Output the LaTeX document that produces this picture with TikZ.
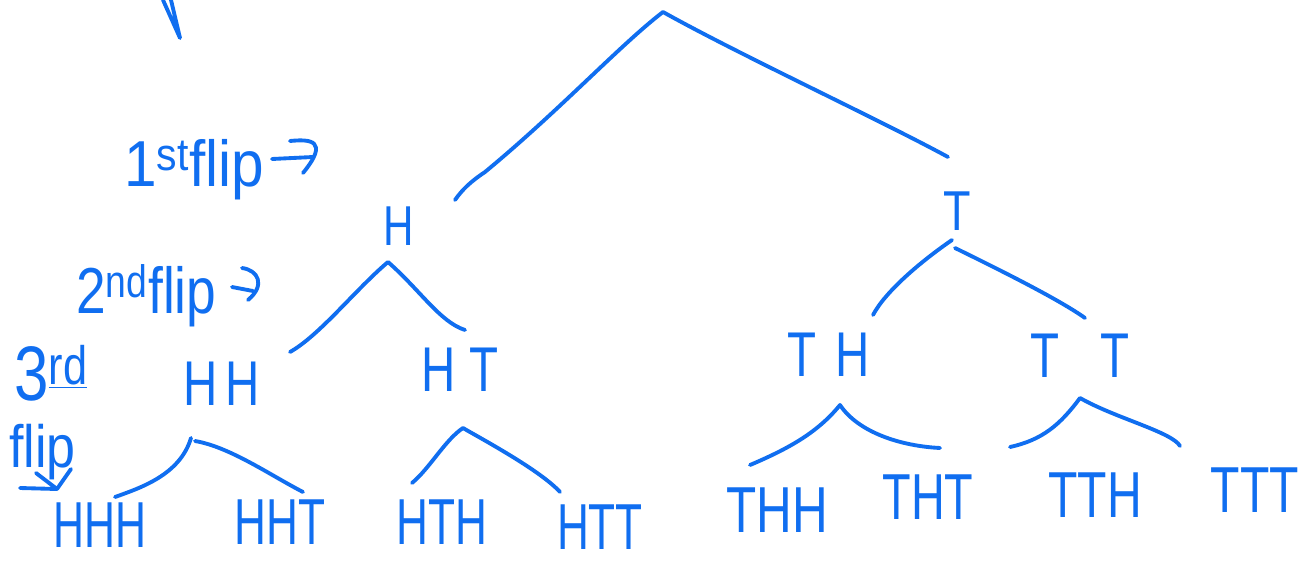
\documentclass[tikz,border=0pt]{standalone}
\usepackage{fontspec}
\usepackage{graphicx}
\setmainfont{Liberation Sans}
\usetikzlibrary{arrows.meta,calc}
\definecolor{ink}{RGB}{16,110,240}
\newcommand{\narrowtxt}[2]{\scalebox{#1}[1]{#2}}
\begin{document}
\begin{tikzpicture}[x=0.02cm,y=-0.02cm,
  pen/.style={draw=ink,line width=2.2pt,line cap=round,line join=round},
  lvlone/.style={text=ink,inner sep=0pt,font=\fontsize{32}{36}\selectfont},
  lvltwo/.style={text=ink,inner sep=0pt,font=\fontsize{36}{40}\selectfont},
  leaf/.style={text=ink,inner sep=0pt,font=\fontsize{37}{40}\selectfont},
  side/.style={text=ink,inner sep=0pt,anchor=base west,font=\fontsize{37}{40}\selectfont}]
\useasboundingbox (0,0) rectangle (1314,561);
% level 1
\node[lvlone] (H) at (399,226) {\narrowtxt{0.75}{H}};
\node[lvlone] (T) at (957,211) {\narrowtxt{0.8}{T}};
% level 2
\node[lvltwo] (HH) at (222,384) {\narrowtxt{0.75}{H\,H}};
\node[lvltwo] (HT) at (460,370) {\narrowtxt{0.75}{H\hspace{0.3em}T}};
\node[lvltwo] (TH) at (829,355) {\narrowtxt{0.75}{T\hspace{0.4em}H}};
\node[lvltwo] (TT) at (1080,356) {\narrowtxt{0.75}{T\hspace{0.85em}T}};
% leaves
\node[leaf] (HHH) at (100,525) {\narrowtxt{0.66}{HHH}};
\node[leaf] (HHT) at (280,522) {\narrowtxt{0.68}{HHT}};
\node[leaf] (HTH) at (442,522) {\narrowtxt{0.68}{HTH}};
\node[leaf] (HTT) at (600,527) {\narrowtxt{0.68}{HTT}};
\node[leaf] (THH) at (777,510) {\narrowtxt{0.76}{THH}};
\node[leaf] (THT) at (928,497) {\narrowtxt{0.72}{THT}};
\node[leaf] (TTH) at (1095,495) {\narrowtxt{0.74}{TTH}};
\node[leaf] (TTT) at (1255,490) {\narrowtxt{0.74}{TTT}};
% branch apexes and ends
\coordinate (a0) at (663,12);
\coordinate (e0l) at (455,200);
\coordinate (e0r) at (948,157);
\coordinate (aH) at (388,262);
\coordinate (eHl) at (290,352);
\coordinate (eHr) at (465,330);
\coordinate (aT) at (952,240);
\coordinate (aT2) at (955,248);
\coordinate (eTl) at (873,315);
\coordinate (eTr) at (1085,318);
\coordinate (aHH) at (191,438);
\coordinate (aHH2) at (195,441);
\coordinate (eHHl) at (115,497);
\coordinate (eHHr) at (303,492);
\coordinate (aHT) at (463,428);
\coordinate (eHTl) at (412,483);
\coordinate (eHTr) at (560,492);
\coordinate (aTH) at (840,405);
\coordinate (eTHl) at (750,465);
\coordinate (eTHr) at (940,448);
\coordinate (aTT) at (1080,398);
\coordinate (eTTl) at (1010,447);
\coordinate (eTTr) at (1180,446);
% branches
\draw[pen] (e0l) .. controls (462,190) and (470,182) .. (485,172) .. controls (560,110) and (620,45) .. (a0) .. controls (740,55) and (880,120) .. (e0r);
\draw[pen] (eHl) .. controls (320,335) and (355,290) .. (aH) .. controls (420,290) and (440,322) .. (eHr);
\draw[pen] (eTl) .. controls (885,292) and (920,262) .. (aT);
\draw[pen] (aT2) .. controls (1000,270) and (1060,300) .. (eTr);
\draw[pen] (eHHl) .. controls (140,488) and (180,475) .. (aHH);
\draw[pen] (aHH2) .. controls (230,447) and (270,475) .. (eHHr);
\draw[pen] (eHTl) .. controls (430,468) and (445,440) .. (aHT) .. controls (480,438) and (540,470) .. (eHTr);
\draw[pen] (eTHl) .. controls (790,448) and (818,432) .. (aTH) .. controls (858,432) and (900,446) .. (eTHr);
\draw[pen] (eTTl) .. controls (1042,440) and (1060,425) .. (aTT) .. controls (1115,418) and (1172,432) .. (eTTr);
% side labels
\node[side] (flip1) at (124,186) {\narrowtxt{0.9}{1\textsuperscript{st}flip}};
\coordinate (ar1s) at (272,159);
\coordinate (ar1e) at (313,157);
\coordinate (ar1a) at (290,141);
\coordinate (ar1b) at (303,173);
\draw[pen] (ar1s) -- (ar1e);
\draw[pen] (ar1a) .. controls (310,139) and (330,140) .. (ar1b);
\node[side] (flip2) at (76,313) {\narrowtxt{0.82}{2\textsuperscript{nd}flip}};
\coordinate (ar2s) at (232,287);
\coordinate (ar2e) at (253,291);
\coordinate (ar2a) at (242,268);
\coordinate (ar2b) at (248,300);
\draw[pen] (ar2s) -- (ar2e);
\draw[pen] (ar2a) .. controls (258,270) and (266,285) .. (ar2b);
\node[side,font=\fontsize{44}{48}\selectfont] (third) at (14,400) {\narrowtxt{0.8}{3\textsuperscript{\underline{rd}}}};
\node[side,font=\fontsize{34}{38}\selectfont] (flip3) at (9,467) {\narrowtxt{0.87}{flip}};
\coordinate (ar3s) at (71,469);
\coordinate (ar3t) at (57,489);
\draw[pen] (ar3s) -- (ar3t);
\draw[pen] (20,488) -- (ar3t) -- (36,473);
% fragments of cut-off writing
\draw[pen] (163,0) -- (180,38) -- (171,0);
\draw[pen] (1187,-4) arc[start angle=180,end angle=360,radius=8];
\end{tikzpicture}
\end{document}
